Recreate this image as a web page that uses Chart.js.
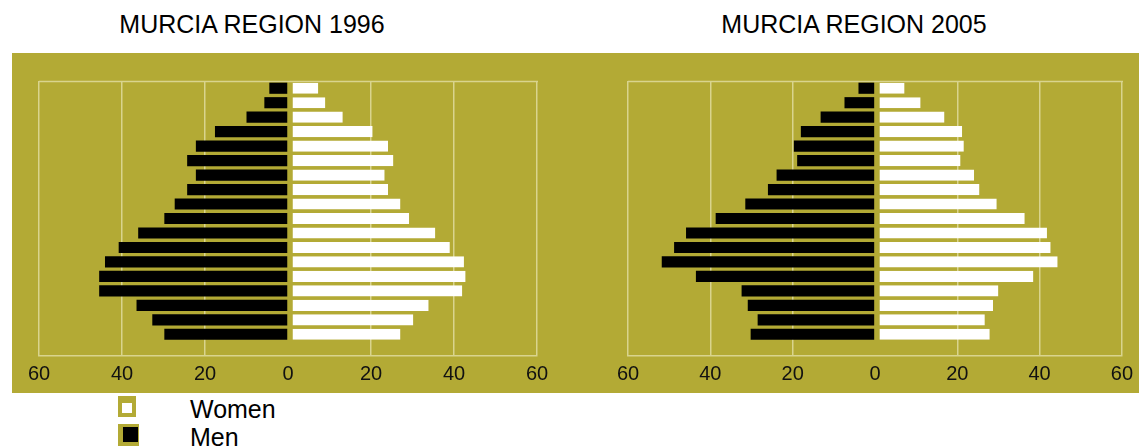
<!DOCTYPE html>
<html>
<head>
<meta charset="utf-8">
<script src="https://cdn.jsdelivr.net/npm/chart.js@4.4.1/dist/chart.umd.min.js"></script>
<style>
  html, body { margin: 0; padding: 0; background: #ffffff; width: 1139px; height: 446px; overflow: hidden;
               font-family: "Liberation Sans", Arial, Helvetica, sans-serif; }
  #panel { position: absolute; left: 12px; top: 53px; width: 1127px; height: 340px; background: #b3aa35; }
  .title { position: absolute; top: 12px; font-size: 25px; line-height: 25px; color: #000; white-space: nowrap;
           transform: translateX(-50%); }
  canvas { position: absolute; }
  #c1996 { left: 12px; top: 53px; }
  #c2005 { left: 590px; top: 53px; }
  .legend-item { position: absolute; left: 118px; height: 25px; }
  .legend-box { position: absolute; left: 0; background: #b3aa35; }
  .legend-swatch { position: absolute; }
  .legend-text { position: absolute; left: 72px; top: 1px; font-size: 25px; line-height: 25px; color: #000; white-space: nowrap; }
</style>
</head>
<body>
<div id="panel"></div>
<div class="title" id="t1996" style="left:252px"></div>
<div class="title" id="t2005" style="left:854px"></div>
<canvas id="c1996" width="578" height="340"></canvas>
<canvas id="c2005" width="549" height="340"></canvas>
<div id="legend"></div>

<script>
// Age groups, oldest at the top of each pyramid; the trailing blank slot leaves room under the youngest bar.
const ageGroups = ['85+', '80-84', '75-79', '70-74', '65-69', '60-64', '55-59', '50-54', '45-49',
                   '40-44', '35-39', '30-34', '25-29', '20-24', '15-19', '10-14', '5-9', '0-4', ''];

// Population by age group (thousands)
const men1996   = [4.5, 5.7, 10.0, 17.6, 22.2, 24.3, 22.2, 24.3, 27.3, 29.8, 36.1, 40.8, 44.1, 45.5, 45.5, 36.5, 32.7, 29.8];
const women1996 = [7.3, 9.0, 13.2, 20.4, 24.1, 25.4, 23.3, 24.1, 27.1, 29.2, 35.5, 39.0, 42.4, 42.8, 42.0, 33.9, 30.2, 27.1];
const men2005   = [4.0, 7.4, 13.2, 18.0, 19.7, 18.9, 23.9, 26.0, 31.5, 38.7, 45.9, 48.8, 51.8, 43.5, 32.4, 30.9, 28.5, 30.2];
const women2005 = [7.2, 11.1, 16.9, 21.2, 21.6, 20.8, 24.1, 25.4, 29.6, 36.4, 41.8, 42.7, 44.4, 38.5, 30.0, 28.7, 26.7, 27.9];

const xTickValues = [-60, -40, -20, 0, 20, 40, 60];
const chartTitles = ['MURCIA REGION 1996', 'MURCIA REGION 2005'];
const seriesNames = ['Women', 'Men'];

const GRID = '#d9d48e';
const WOMEN_COLOR = '#ffffff';
const MEN_COLOR = '#000000';
const FONT = '"Liberation Sans", Arial, Helvetica, sans-serif';

document.getElementById('t1996').textContent = chartTitles[0];
document.getElementById('t2005').textContent = chartTitles[1];

// Top edge of the plot frame
const frameTop = {
  id: 'frameTop',
  beforeDatasetsDraw(chart) {
    const { ctx, chartArea } = chart;
    const x = chart.scales.x;
    const y = Math.round(chartArea.top) + 0.5;
    ctx.save();
    ctx.strokeStyle = GRID;
    ctx.lineWidth = 1.5;
    ctx.beginPath();
    ctx.moveTo(Math.round(x.getPixelForValue(-60)), y);
    ctx.lineTo(Math.round(x.getPixelForValue(60)) + 1, y);
    ctx.stroke();
    ctx.restore();
  }
};

function pyramid(canvasId, men, women, pad) {
  return new Chart(document.getElementById(canvasId), {
    type: 'bar',
    data: {
      labels: ageGroups,
      datasets: [
        {
          label: seriesNames[1],
          data: men.map(v => -v),
          backgroundColor: MEN_COLOR,
          borderWidth: 0,
          barPercentage: 0.77,
          categoryPercentage: 1
        },
        {
          label: seriesNames[0],
          data: women,
          backgroundColor: WOMEN_COLOR,
          borderColor: 'rgba(0,0,0,0)',
          borderWidth: { left: 4, top: 0, right: 0, bottom: 0 },
          borderSkipped: false,
          barPercentage: 0.77,
          categoryPercentage: 1
        }
      ]
    },
    options: {
      indexAxis: 'y',
      responsive: false,
      animation: false,
      devicePixelRatio: 1,
      layout: { padding: pad },
      plugins: { legend: { display: false }, tooltip: { enabled: false }, title: { display: false } },
      scales: {
        x: {
          type: 'linear',
          stacked: true,
          min: -60,
          max: 60,
          afterBuildTicks(scale) { scale.ticks = xTickValues.map(v => ({ value: v })); },
          grid: {
            color: ctx => (ctx.tick && ctx.tick.value === 0) ? 'rgba(0,0,0,0)' : GRID,
            lineWidth: 1.5,
            drawTicks: false
          },
          border: { display: true, color: GRID, width: 1.5 },
          ticks: {
            padding: 6,
            color: '#111111',
            font: { family: FONT, size: 20 },
            maxRotation: 0,
            autoSkip: false,
            callback: v => String(Math.abs(v))
          }
        },
        y: {
          type: 'category',
          stacked: true,
          display: false
        }
      }
    },
    plugins: [frameTop]
  });
}

pyramid('c1996', men1996, women1996, { left: 27, right: 53, top: 28, bottom: 1 });
pyramid('c2005', men2005, women2005, { left: 38, right: 13, top: 28, bottom: 1 });

// Legend below the first pyramid
const legend = document.getElementById('legend');
const legendRows = [
  { name: seriesNames[0], color: WOMEN_COLOR, top: 396, box: [18, 21], sw: [4, 7, 10, 10] },
  { name: seriesNames[1], color: MEN_COLOR,   top: 424, box: [21, 22], sw: [5, 3, 15, 15] }
];
legendRows.forEach(r => {
  const item = document.createElement('div');
  item.className = 'legend-item';
  item.style.top = r.top + 'px';
  const box = document.createElement('div');
  box.className = 'legend-box';
  box.style.width = r.box[0] + 'px';
  box.style.height = r.box[1] + 'px';
  const sw = document.createElement('div');
  sw.className = 'legend-swatch';
  sw.style.left = r.sw[0] + 'px';
  sw.style.top = r.sw[1] + 'px';
  sw.style.width = r.sw[2] + 'px';
  sw.style.height = r.sw[3] + 'px';
  sw.style.background = r.color;
  box.appendChild(sw);
  const txt = document.createElement('div');
  txt.className = 'legend-text';
  txt.textContent = r.name;
  item.appendChild(box);
  item.appendChild(txt);
  legend.appendChild(item);
});
</script>
</body>
</html>
